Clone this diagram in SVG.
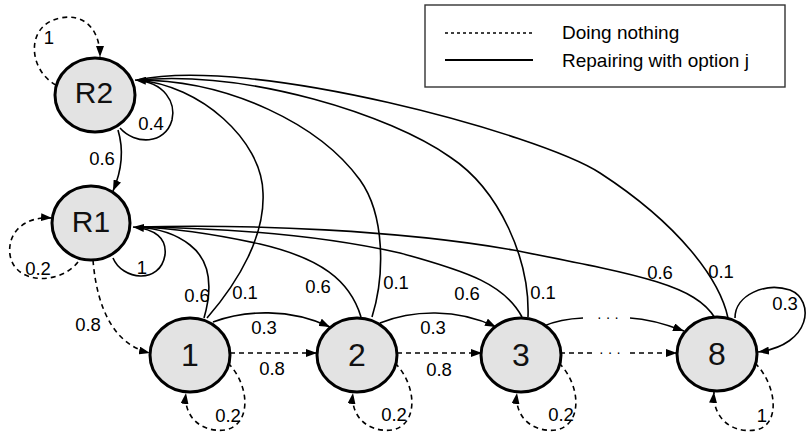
<svg xmlns="http://www.w3.org/2000/svg" width="807" height="435" viewBox="0 0 807 435">
<style>
.node ellipse{fill:#e3e3e3;stroke:#000;stroke-width:3}
.node text{font-family:"Liberation Sans",Arial,sans-serif;font-size:30px;text-anchor:middle;fill:#111}
.node text.num{font-size:32px}
.e{fill:none;stroke:#000;stroke-width:1.6}
.d{fill:none;stroke:#000;stroke-width:1.6;stroke-dasharray:5 4}
.a{marker-end:url(#arr)}
.lbl{font-family:"Liberation Sans",Arial,sans-serif;font-size:18.5px;text-anchor:middle;fill:#000}
.dots{font-family:"Liberation Sans",Arial,sans-serif;font-size:14px;text-anchor:middle;fill:#000}
.leg{font-family:"Liberation Sans",Arial,sans-serif;font-size:19px;fill:#000}
</style>
<defs>
<marker id="arr" markerUnits="userSpaceOnUse" markerWidth="11" markerHeight="8" refX="11" refY="4" orient="auto">
<path d="M0,0 L11,4 L0,8 z" fill="#000"/>
</marker>
</defs>
<rect width="807" height="435" fill="#fff"/>

<g id="legend">
<rect x="425" y="5" width="360" height="82" fill="#fff" stroke="#333" stroke-width="1.4"/>
<line x1="445" y1="33" x2="533" y2="33" stroke="#000" stroke-width="1.5" stroke-dasharray="3 3"/>
<line x1="445" y1="60" x2="533" y2="60" stroke="#000" stroke-width="2"/>
<text class="leg" x="562" y="39">Doing nothing</text>
<text class="leg" x="562" y="67">Repairing with option j</text>
</g>

<g id="connectors">
<path class="e" d="M728,318 C720,280 680,225 600,173 C540,134 250,55 137,80"/>
<path class="e" d="M528,317 C530,260 500,190 450,157 C390,115 250,70 137,80"/>
<path class="e" d="M372,317 C385,275 385,215 360,180 C320,125 230,80 137,80"/>
<path class="e" d="M207,318 C240,280 265,235 263,193 C262,140 200,85 137,80"/>
<path class="e a" d="M120,128 C135,145 165,145 172,120 C176,103 165,82 135,80"/>
<path class="e a" d="M118,130 C124,150 122,170 113,191"/>
<path class="e" d="M715,318 C695,285 640,275 513,250 C400,230 250,224 136,227"/>
<path class="e" d="M522,317 C505,285 470,272 400,253 C320,235 230,228 136,227"/>
<path class="e" d="M361,317 C350,280 320,258 260,244 C210,233 170,228 136,227"/>
<path class="e" d="M204,318 C212,290 212,262 190,245 C175,233 155,228 136,227"/>
<path class="e a" d="M113,258 C122,280 160,285 165,255 C167,238 155,229 133,227"/>
<path class="d a" d="M56,85 C28,70 25,25 60,18 C85,13 100,30 100,57"/>
<path class="d a" d="M78,262 C60,285 15,285 10,255 C7,232 25,216 52,218"/>
<path class="d a" d="M93,260 C97,310 115,345 150,353"/>
<path class="e a" d="M213,322 C245,310 290,308 330,327"/>
<path class="e a" d="M380,323 C412,310 457,308 496,327"/>
<path class="e" d="M544,326 Q560,319 583,318"/>
<path class="e a" d="M630,318 C650,319 668,325 684,331"/>
<path class="d a" d="M230,353 L317,353"/>
<path class="d a" d="M397,353 L482,353"/>
<path class="d" d="M560,353 L594,353"/>
<path class="d a" d="M630,353 L677,353"/>
<path class="d a" d="M228,363 C250,385 252,425 225,430 C200,433 183,415 186,393"/>
<path class="d a" d="M395,363 C417,385 419,425 392,430 C367,433 350,415 353,393"/>
<path class="d a" d="M559,363 C581,385 583,425 556,430 C531,433 514,415 517,393"/>
<path class="d a" d="M755,363 C777,385 781,425 756,430 C729,434 712,415 714,392"/>
<path class="e a" d="M735,318 C735,295 765,282 790,290 C815,300 812,345 758,352"/>
<text class="dots" x="608" y="322">· · ·</text>
<text class="dots" x="610" y="357">· · ·</text>
<text class="lbl" x="49" y="44">1</text>
<text class="lbl" x="151" y="130">0.4</text>
<text class="lbl" x="102" y="165">0.6</text>
<text class="lbl" x="38" y="275">0.2</text>
<text class="lbl" x="142" y="274">1</text>
<text class="lbl" x="88" y="331">0.8</text>
<text class="lbl" x="197" y="302">0.6</text>
<text class="lbl" x="245" y="299">0.1</text>
<text class="lbl" x="264" y="334">0.3</text>
<text class="lbl" x="272" y="375">0.8</text>
<text class="lbl" x="228" y="422">0.2</text>
<text class="lbl" x="318" y="293">0.6</text>
<text class="lbl" x="396" y="289">0.1</text>
<text class="lbl" x="433" y="334">0.3</text>
<text class="lbl" x="439" y="376">0.8</text>
<text class="lbl" x="394" y="421">0.2</text>
<text class="lbl" x="467" y="300">0.6</text>
<text class="lbl" x="543" y="299">0.1</text>
<text class="lbl" x="561" y="421">0.2</text>
<text class="lbl" x="660" y="279">0.6</text>
<text class="lbl" x="721" y="278">0.1</text>
<text class="lbl" x="785" y="310">0.3</text>
<text class="lbl" x="762" y="422">1</text>
</g>

<g id="R2" class="node"><ellipse cx="95" cy="95" rx="40" ry="37"/><text x="94" y="103">R2</text></g>
<g id="R1" class="node"><ellipse cx="91" cy="223" rx="39" ry="37"/><text x="91" y="232">R1</text></g>
<g id="n1" class="node"><ellipse cx="190" cy="355" rx="40" ry="37"/><text class="num" x="190" y="366">1</text></g>
<g id="n2" class="node"><ellipse cx="357" cy="355" rx="40" ry="37"/><text class="num" x="357" y="366">2</text></g>
<g id="n3" class="node"><ellipse cx="521" cy="355" rx="40" ry="37"/><text class="num" x="521" y="366">3</text></g>
<g id="n8" class="node"><ellipse cx="717" cy="354" rx="40" ry="37"/><text class="num" x="717" y="365">8</text></g>
</svg>
